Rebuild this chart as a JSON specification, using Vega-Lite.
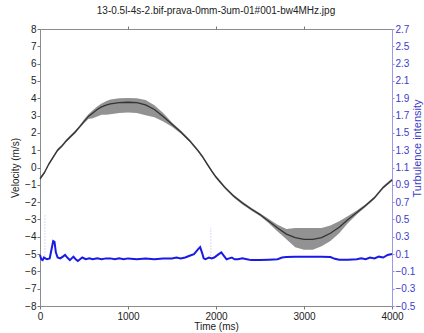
{
  "$schema": "https://vega.github.io/schema/vega-lite/v6.json",
  "width": 352,
  "height": 277,
  "autosize": {"type": "none"},
  "padding": {"left": 40, "top": 29, "right": 32, "bottom": 27},
  "background": "white",
  "title": {"text": "13-0.5l-4s-2.bif-prava-0mm-3um-01#001-bw4MHz.jpg", "font": "Liberation Sans", "fontSize": 10, "fontWeight": "normal", "color": "#222222", "offset": 8},
  "config": {
    "view": {"stroke": "#8c8c8c", "strokeWidth": 1},
    "axis": {"grid": false, "labelOverlap": false, "labelFlush": false, "labelFont": "Liberation Sans", "titleFont": "Liberation Sans", "labelFontSize": 10, "titleFontSize": 10, "titleFontWeight": "normal", "labelColor": "#222222", "titleColor": "#222222", "domainColor": "#8c8c8c", "tickColor": "#777777"}
  },
  "datasets": {
    "vel": [
      {"t": 0, "v": -0.65, "lo": -0.73, "hi": -0.57},
      {"t": 50, "v": -0.3, "lo": -0.38, "hi": -0.22},
      {"t": 100, "v": 0.2, "lo": 0.12, "hi": 0.28},
      {"t": 150, "v": 0.6, "lo": 0.52, "hi": 0.68},
      {"t": 200, "v": 1.0, "lo": 0.92, "hi": 1.08},
      {"t": 250, "v": 1.25, "lo": 1.17, "hi": 1.33},
      {"t": 300, "v": 1.55, "lo": 1.47, "hi": 1.63},
      {"t": 350, "v": 1.8, "lo": 1.72, "hi": 1.88},
      {"t": 400, "v": 2.05, "lo": 1.97, "hi": 2.13},
      {"t": 450, "v": 2.35, "lo": 2.27, "hi": 2.43},
      {"t": 500, "v": 2.65, "lo": 2.55, "hi": 2.77},
      {"t": 550, "v": 2.95, "lo": 2.8, "hi": 3.07},
      {"t": 600, "v": 3.15, "lo": 2.85, "hi": 3.3},
      {"t": 650, "v": 3.35, "lo": 2.95, "hi": 3.52},
      {"t": 700, "v": 3.5, "lo": 3.05, "hi": 3.7},
      {"t": 750, "v": 3.6, "lo": 3.05, "hi": 3.83},
      {"t": 800, "v": 3.68, "lo": 3.08, "hi": 3.93},
      {"t": 900, "v": 3.75, "lo": 3.15, "hi": 4.0},
      {"t": 1000, "v": 3.77, "lo": 3.17, "hi": 4.02},
      {"t": 1100, "v": 3.75, "lo": 3.15, "hi": 4.0},
      {"t": 1200, "v": 3.62, "lo": 3.02, "hi": 3.9},
      {"t": 1300, "v": 3.35, "lo": 2.9, "hi": 3.6},
      {"t": 1400, "v": 2.95, "lo": 2.65, "hi": 3.15},
      {"t": 1500, "v": 2.5, "lo": 2.35, "hi": 2.6},
      {"t": 1600, "v": 2.05, "lo": 1.97, "hi": 2.13},
      {"t": 1700, "v": 1.55, "lo": 1.47, "hi": 1.63},
      {"t": 1800, "v": 0.95, "lo": 0.87, "hi": 1.03},
      {"t": 1850, "v": 0.6, "lo": 0.52, "hi": 0.68},
      {"t": 1900, "v": 0.2, "lo": 0.12, "hi": 0.28},
      {"t": 1950, "v": -0.2, "lo": -0.28, "hi": -0.12},
      {"t": 2000, "v": -0.55, "lo": -0.63, "hi": -0.47},
      {"t": 2050, "v": -0.85, "lo": -0.93, "hi": -0.77},
      {"t": 2100, "v": -1.15, "lo": -1.23, "hi": -1.07},
      {"t": 2200, "v": -1.65, "lo": -1.73, "hi": -1.57},
      {"t": 2300, "v": -2.05, "lo": -2.13, "hi": -1.97},
      {"t": 2400, "v": -2.4, "lo": -2.48, "hi": -2.32},
      {"t": 2500, "v": -2.72, "lo": -2.8, "hi": -2.64},
      {"t": 2600, "v": -3.1, "lo": -3.22, "hi": -2.98},
      {"t": 2700, "v": -3.5, "lo": -3.7, "hi": -3.3},
      {"t": 2800, "v": -3.85, "lo": -4.15, "hi": -3.55},
      {"t": 2900, "v": -4.05, "lo": -4.6, "hi": -3.5},
      {"t": 3000, "v": -4.15, "lo": -4.75, "hi": -3.5},
      {"t": 3100, "v": -4.15, "lo": -4.75, "hi": -3.5},
      {"t": 3200, "v": -4.05, "lo": -4.55, "hi": -3.5},
      {"t": 3300, "v": -3.8, "lo": -4.25, "hi": -3.35},
      {"t": 3400, "v": -3.45, "lo": -3.8, "hi": -3.1},
      {"t": 3500, "v": -3.0, "lo": -3.2, "hi": -2.8},
      {"t": 3600, "v": -2.6, "lo": -2.72, "hi": -2.48},
      {"t": 3700, "v": -2.2, "lo": -2.28, "hi": -2.12},
      {"t": 3800, "v": -1.75, "lo": -1.83, "hi": -1.67},
      {"t": 3900, "v": -1.15, "lo": -1.23, "hi": -1.07},
      {"t": 4000, "v": -0.72, "lo": -0.8, "hi": -0.64}
    ],
    "turb": [
      {"t": 0, "ti": 0.09}, {"t": 15, "ti": 0.04}, {"t": 30, "ti": 0.03}, {"t": 45, "ti": 0.06},
      {"t": 60, "ti": 0.05}, {"t": 80, "ti": 0.04}, {"t": 110, "ti": 0.05}, {"t": 130, "ti": 0.15},
      {"t": 150, "ti": 0.25}, {"t": 165, "ti": 0.24}, {"t": 180, "ti": 0.12}, {"t": 200, "ti": 0.06},
      {"t": 230, "ti": 0.05}, {"t": 260, "ti": 0.07}, {"t": 285, "ti": 0.09}, {"t": 310, "ti": 0.06},
      {"t": 340, "ti": 0.03}, {"t": 360, "ti": 0.05}, {"t": 380, "ti": 0.07}, {"t": 405, "ti": 0.04},
      {"t": 430, "ti": 0.02}, {"t": 455, "ti": 0.04}, {"t": 480, "ti": 0.06}, {"t": 520, "ti": 0.04},
      {"t": 560, "ti": 0.05}, {"t": 600, "ti": 0.04}, {"t": 650, "ti": 0.05}, {"t": 700, "ti": 0.04},
      {"t": 750, "ti": 0.05}, {"t": 800, "ti": 0.05}, {"t": 850, "ti": 0.04}, {"t": 900, "ti": 0.05},
      {"t": 950, "ti": 0.04}, {"t": 1000, "ti": 0.05}, {"t": 1100, "ti": 0.04}, {"t": 1200, "ti": 0.05},
      {"t": 1300, "ti": 0.04}, {"t": 1400, "ti": 0.05}, {"t": 1500, "ti": 0.05}, {"t": 1550, "ti": 0.06},
      {"t": 1600, "ti": 0.05}, {"t": 1650, "ti": 0.06}, {"t": 1700, "ti": 0.08}, {"t": 1750, "ti": 0.1},
      {"t": 1800, "ti": 0.16}, {"t": 1820, "ti": 0.18}, {"t": 1840, "ti": 0.12}, {"t": 1860, "ti": 0.05},
      {"t": 1880, "ti": 0.04}, {"t": 1900, "ti": 0.05}, {"t": 1920, "ti": 0.06}, {"t": 1950, "ti": 0.05},
      {"t": 1980, "ti": 0.06}, {"t": 2020, "ti": 0.09}, {"t": 2060, "ti": 0.12}, {"t": 2090, "ti": 0.08},
      {"t": 2120, "ti": 0.04}, {"t": 2150, "ti": 0.05}, {"t": 2180, "ti": 0.06}, {"t": 2210, "ti": 0.04},
      {"t": 2250, "ti": 0.04}, {"t": 2300, "ti": 0.05}, {"t": 2350, "ti": 0.04}, {"t": 2400, "ti": 0.03},
      {"t": 2500, "ti": 0.03}, {"t": 2600, "ti": 0.035}, {"t": 2700, "ti": 0.04}, {"t": 2750, "ti": 0.06},
      {"t": 2800, "ti": 0.065}, {"t": 2900, "ti": 0.07}, {"t": 3000, "ti": 0.07}, {"t": 3100, "ti": 0.07},
      {"t": 3200, "ti": 0.07}, {"t": 3300, "ti": 0.065}, {"t": 3350, "ti": 0.045}, {"t": 3400, "ti": 0.035},
      {"t": 3500, "ti": 0.035}, {"t": 3600, "ti": 0.04}, {"t": 3650, "ti": 0.05}, {"t": 3700, "ti": 0.04},
      {"t": 3750, "ti": 0.06}, {"t": 3800, "ti": 0.05}, {"t": 3850, "ti": 0.07}, {"t": 3900, "ti": 0.06},
      {"t": 3950, "ti": 0.09}, {"t": 4000, "ti": 0.1}
    ],
    "spikes": [
      {"t": 55, "lo": 0.05, "hi": 0.55},
      {"t": 1940, "hi": 0.4, "lo": 0.05}
    ]
  },
  "layer": [
    {
      "data": {"name": "vel"},
      "encoding": {
        "x": {"field": "t", "type": "quantitative", "scale": {"domain": [0, 4000], "nice": false},
          "axis": {"orient": "bottom", "values": [0, 1000, 2000, 3000, 4000], "format": "d", "title": "Time (ms)", "tickSize": 3, "labelPadding": 2, "titlePadding": 0, "domain": false, "labelOverlap": false}}
      },
      "layer": [
        {
          "mark": {"type": "area", "color": "#4a4a4a", "opacity": 0.6},
          "encoding": {
            "y": {"field": "lo", "type": "quantitative", "scale": {"domain": [-8, 8], "nice": false},
              "axis": {"orient": "left", "values": [-8, -7, -6, -5, -4, -3, -2, -1, 0, 1, 2, 3, 4, 5, 6, 7, 8], "format": "d", "title": "Velocity (m/s)", "tickSize": 3, "labelPadding": 1, "titlePadding": 4, "domain": false, "labelOverlap": false, "labelBound": false}},
            "y2": {"field": "hi"}
          }
        },
        {
          "mark": {"type": "line", "color": "#333333", "strokeWidth": 1.3},
          "encoding": {"y": {"field": "v", "type": "quantitative",
              "axis": {"orient": "left", "values": [-8, -7, -6, -5, -4, -3, -2, -1, 0, 1, 2, 3, 4, 5, 6, 7, 8], "format": "d", "title": "Velocity (m/s)", "tickSize": 3, "labelPadding": 1, "titlePadding": 4, "domain": false, "labelOverlap": false, "labelBound": false}}}
        }
      ]
    },
    {
      "encoding": {
        "x": {"field": "t", "type": "quantitative",
          "axis": {"orient": "top", "values": [1000, 2000, 3000], "labels": false, "title": null, "tickSize": 3, "domain": false}}
      },
      "layer": [
        {
          "data": {"name": "spikes"},
          "mark": {"type": "rule", "color": "#6a6af0", "opacity": 0.35, "strokeWidth": 1.5, "strokeDash": [1, 2]},
          "encoding": {
            "y": {"field": "lo", "type": "quantitative", "scale": {"domain": [-0.5, 2.7], "nice": false, "zero": false},
              "axis": {"orient": "right", "values": [-0.5, -0.3, -0.1, 0.1, 0.3, 0.5, 0.7, 0.9, 1.1, 1.3, 1.5, 1.7, 1.9, 2.1, 2.3, 2.5, 2.7], "format": ".1f", "title": "Turbulence intensity", "titleFontSize": 11, "titleAngle": 270, "titleX": 28, "titleY": 119, "titleAlign": "center", "titleBaseline": "alphabetic", "titleColor": "#3c3cc8", "labelColor": "#3c3cc8", "tickColor": "#8a8ae0", "domainColor": "#9a9ae6", "tickSize": 2, "labelPadding": 1, "labelOverlap": false, "labelBound": false}},
            "y2": {"field": "hi"}
          }
        },
        {
          "data": {"name": "turb"},
          "mark": {"type": "line", "color": "#1a1ae6", "strokeWidth": 2},
          "encoding": {"y": {"field": "ti", "type": "quantitative",
              "axis": {"orient": "right", "values": [-0.5, -0.3, -0.1, 0.1, 0.3, 0.5, 0.7, 0.9, 1.1, 1.3, 1.5, 1.7, 1.9, 2.1, 2.3, 2.5, 2.7], "format": ".1f", "title": "Turbulence intensity", "titleFontSize": 11, "titleAngle": 270, "titleX": 28, "titleY": 119, "titleAlign": "center", "titleBaseline": "alphabetic", "titleColor": "#3c3cc8", "labelColor": "#3c3cc8", "tickColor": "#8a8ae0", "domainColor": "#9a9ae6", "tickSize": 2, "labelPadding": 1, "labelOverlap": false, "labelBound": false}}}
        }
      ]
    }
  ],
  "resolve": {"scale": {"y": "independent"}, "axis": {"x": "independent"}}
}
